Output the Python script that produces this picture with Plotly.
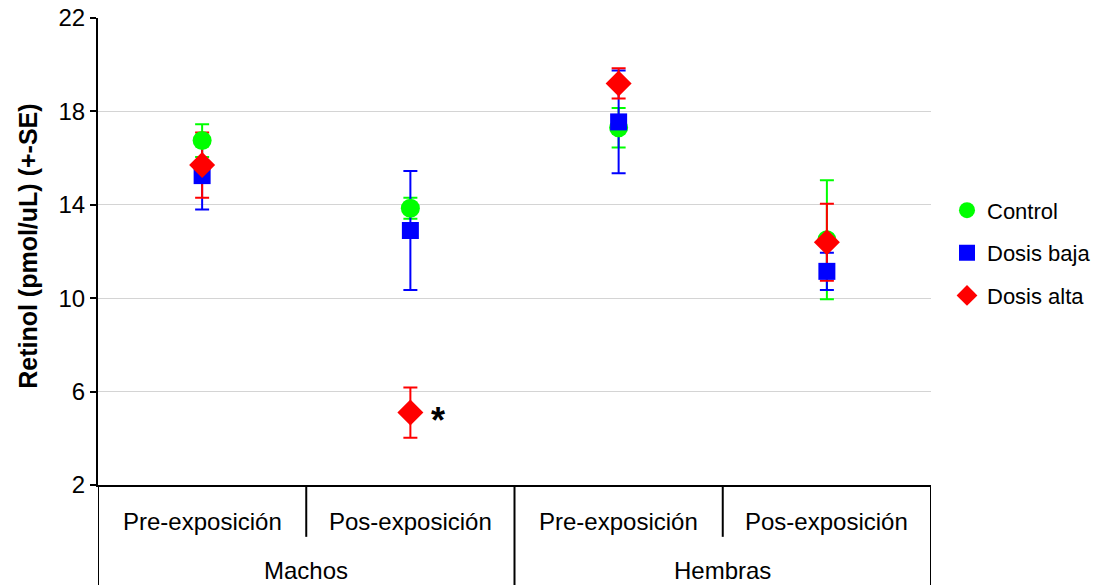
import plotly.graph_objects as go

# ---- data ----
groups = ["Machos", "Hembras"]
periods = ["Pre-exposición", "Pos-exposición"]
series_names = ["Control", "Dosis baja", "Dosis alta"]
control_mean = [16.75, 13.85, 17.3, 12.5]
control_se = [0.7, 0.45, 0.85, 2.55]
baja_mean = [15.25, 12.9, 17.55, 11.15]
baja_se = [1.45, 2.55, 2.2, 0.8]
alta_mean = [15.7, 5.1, 19.2, 12.4]
alta_se = [1.4, 1.08, 0.65, 1.65]
y_ticks = [2, 6, 10, 14, 18, 22]
significant_idx = 1  # "*" next to Dosis alta, Machos Pos-exposición

# ---- styles ----
colors = ["#00ff00", "#0000ff", "#ff0000"]
symbols = ["circle", "square", "diamond"]
sizes = [19, 17, 20]
FONT = "Liberation Sans, Arial, sans-serif"
FS = 24
W, H = 1106, 585
ML, MR, MT, MB = 98, 10, 18, 100
PLOT_RIGHT_PX = 931
paper_w = W - ML - MR
x_domain_end = (PLOT_RIGHT_PX - ML) / paper_w

inner_labels = [p for g in groups for p in periods]
outer_labels = groups
xs = list(range(len(inner_labels)))

means = [control_mean, baja_mean, alta_mean]
ses = [control_se, baja_se, alta_se]

fig = go.Figure()

# error bars first (beneath all markers)
for name, m, s, c in zip(series_names, means, ses, colors):
    fig.add_trace(go.Scatter(
        x=xs, y=m, mode="markers",
        marker=dict(size=1, color=c, opacity=0),
        error_y=dict(type="data", array=s, visible=True, color=c, thickness=2, width=7),
        showlegend=False, hoverinfo="skip",
    ))

# markers
for i, (name, m, c, sym, sz) in enumerate(zip(series_names, means, colors, symbols, sizes)):
    fig.add_trace(go.Scatter(
        x=xs, y=m, mode="markers", name=name,
        marker=dict(size=sz, color=c, symbol=sym, line=dict(width=0)),
        legendgroup=name,
    ))

# significance asterisk
fig.add_annotation(x=xs[significant_idx], y=alta_mean[significant_idx], text="<b>*</b>",
                   showarrow=False, xshift=28, yshift=-8,
                   font=dict(family=FONT, size=36, color="black"))

# category labels and dividers under the axis
for i, lab in enumerate(inner_labels):
    fig.add_annotation(x=xs[i], y=-0.079, xref="x", yref="paper", text=lab,
                       showarrow=False, yanchor="middle",
                       font=dict(family=FONT, size=FS, color="black"))
n_per = len(periods)
for gi, g in enumerate(outer_labels):
    center = (xs[gi * n_per] + xs[gi * n_per + n_per - 1]) / 2
    fig.add_annotation(x=center, y=-0.184, xref="x", yref="paper", text=g,
                       showarrow=False, yanchor="middle",
                       font=dict(family=FONT, size=FS, color="black"))

for k in range(len(inner_labels) + 1):
    bx = k - 0.5
    long = (k % n_per == 0)
    fig.add_shape(type="line", xref="x", yref="paper", x0=bx, x1=bx,
                  y0=0, y1=(-0.25 if long else -0.111),
                  line=dict(color="black", width=2))

# y axis title
fig.add_annotation(x=-70 / paper_w, y=0.51, xref="paper", yref="paper",
                   text="<b>Retinol (pmol/uL) (+-SE)</b>", textangle=-90,
                   showarrow=False, xanchor="center", yanchor="middle",
                   font=dict(family=FONT, size=25, color="black"))

fig.update_layout(
    width=W, height=H,
    margin=dict(l=ML, r=MR, t=MT, b=MB, autoexpand=False),
    paper_bgcolor="white", plot_bgcolor="white",
    font=dict(family=FONT, size=FS, color="black"),
    xaxis=dict(domain=[0, x_domain_end], automargin=False,
               range=[-0.5, len(inner_labels) - 0.5], showticklabels=False,
               showgrid=False, zeroline=False, showline=True, linecolor="black",
               linewidth=2, ticks=""),
    yaxis=dict(range=[2, 22], tickvals=y_ticks, showgrid=True, gridcolor="#d4d4d4",
               automargin=False,
               gridwidth=1, zeroline=False, showline=True, linecolor="black",
               linewidth=2, ticks="outside", ticklen=6, tickwidth=2, tickcolor="black",
               tickfont=dict(family=FONT, size=FS, color="black")),
    legend=dict(x=(947 - ML) / paper_w, y=0.497, xanchor="left", yanchor="middle",
                font=dict(family=FONT, size=22, color="black"),
                traceorder="grouped", tracegroupgap=11, itemwidth=30,
                bgcolor="rgba(0,0,0,0)"),
    showlegend=True,
)

fig.write_html("out.html")
